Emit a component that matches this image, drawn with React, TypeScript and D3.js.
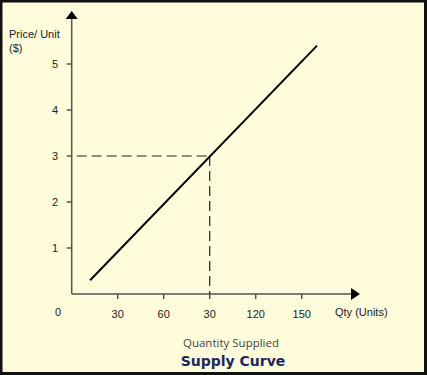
import React, { useEffect, useRef } from 'react';
import * as d3 from 'd3';

// supply line end points (qty, price)
const supplyQty = [12, 160];
const supplyPrice = [0.3, 5.4];

// equilibrium marker
const markQty = 90;
const markPrice = 3;

const xTicks = [30, 60, 90, 120, 150];
const xTickLabels = ['30', '60', '30', '120', '150'];
const yTicks = [1, 2, 3, 4, 5];

const W = 427;
const H = 375;

export default function App() {
  const svgRef = useRef<SVGSVGElement>(null);

  useEffect(() => {
    const svg = d3.select(svgRef.current);
    svg.selectAll('*').remove();

    svg.append('rect')
      .attr('x', 1).attr('y', 1)
      .attr('width', W - 2.5).attr('height', H - 2.5)
      .attr('fill', '#fffcdc')
      .attr('stroke', '#111')
      .attr('stroke-width', 3);

    const x = d3.scaleLinear().domain([0, 30]).range([71.7, 117.7]);
    const y = d3.scaleLinear().domain([0, 1]).range([294, 248]);

    const axisColor = '#555';
    const font = 'Liberation Sans, Arial, sans-serif';

    // y axis
    svg.append('line')
      .attr('x1', x(0)).attr('x2', x(0))
      .attr('y1', y(0)).attr('y2', 18)
      .attr('stroke', axisColor).attr('stroke-width', 1.5);
    svg.append('path')
      .attr('d', `M${x(0) - 6},19 L${x(0)},11 L${x(0) + 6},19 Z`)
      .attr('fill', '#000');

    // x axis
    svg.append('line')
      .attr('x1', x(0)).attr('x2', 352)
      .attr('y1', y(0)).attr('y2', y(0))
      .attr('stroke', axisColor).attr('stroke-width', 1.5);
    svg.append('path')
      .attr('d', `M351,${y(0) - 6} L360,${y(0)} L351,${y(0) + 6} Z`)
      .attr('fill', '#000');

    // y ticks
    yTicks.forEach(t => {
      svg.append('line')
        .attr('x1', x(0) - 5).attr('x2', x(0))
        .attr('y1', y(t)).attr('y2', y(t))
        .attr('stroke', axisColor).attr('stroke-width', 1.5);
      svg.append('text')
        .attr('x', 58).attr('y', y(t) + 4)
        .attr('text-anchor', 'end')
        .attr('font-family', font).attr('font-size', 11)
        .attr('fill', '#222')
        .text(String(t));
    });

    // x ticks
    xTicks.forEach((t, i) => {
      svg.append('line')
        .attr('x1', x(t)).attr('x2', x(t))
        .attr('y1', y(0)).attr('y2', y(0) + 5)
        .attr('stroke', axisColor).attr('stroke-width', 1.5);
      svg.append('text')
        .attr('x', x(t)).attr('y', 318)
        .attr('text-anchor', 'middle')
        .attr('font-family', font).attr('font-size', 11)
        .attr('fill', '#222')
        .text(xTickLabels[i]);
    });

    svg.append('text')
      .attr('x', 58).attr('y', 315.5)
      .attr('text-anchor', 'middle')
      .attr('font-family', font).attr('font-size', 11)
      .attr('fill', '#222')
      .text('0');

    // axis labels
    svg.append('text')
      .attr('x', 9).attr('y', 38)
      .attr('font-family', font).attr('font-size', 11)
      .attr('fill', '#222')
      .text('Price/ Unit');
    svg.append('text')
      .attr('x', 9).attr('y', 52)
      .attr('font-family', font).attr('font-size', 11)
      .attr('fill', '#222')
      .text('($)');
    svg.append('text')
      .attr('x', 335).attr('y', 315.5)
      .attr('font-family', font).attr('font-size', 11)
      .attr('fill', '#222')
      .text('Qty (Units)');

    // dashed guides
    svg.append('line')
      .attr('x1', x(0) + 5).attr('x2', x(markQty))
      .attr('y1', y(markPrice)).attr('y2', y(markPrice))
      .attr('stroke', '#222').attr('stroke-width', 1.2)
      .attr('stroke-dasharray', '10,5');
    svg.append('line')
      .attr('x1', x(markQty)).attr('x2', x(markQty))
      .attr('y1', y(markPrice)).attr('y2', y(0))
      .attr('stroke', '#222').attr('stroke-width', 1.2)
      .attr('stroke-dasharray', '10,5');

    // supply line
    const line = d3.line<number>()
      .x((_, i) => x(supplyQty[i]))
      .y(d => y(d));
    svg.append('path')
      .attr('d', line(supplyPrice))
      .attr('fill', 'none')
      .attr('stroke', '#000')
      .attr('stroke-width', 2);

    // titles
    svg.append('text')
      .attr('x', 231).attr('y', 347)
      .attr('text-anchor', 'middle')
      .attr('font-family', 'Open Sans, sans-serif').attr('font-size', 11.5)
      .attr('fill', '#444')
      .text('Quantity Supplied');
    svg.append('text')
      .attr('x', 233).attr('y', 366)
      .attr('text-anchor', 'middle')
      .attr('font-family', 'DejaVu Sans, Verdana, sans-serif')
      .attr('font-weight', 'bold').attr('font-size', 14)
      .attr('fill', '#1b2a5c')
      .text('Supply Curve');
  }, []);

  return (
    <svg ref={svgRef} width={W} height={H}
      style={{ position: 'absolute', left: 0, top: 0, display: 'block' }} />
  );
}
